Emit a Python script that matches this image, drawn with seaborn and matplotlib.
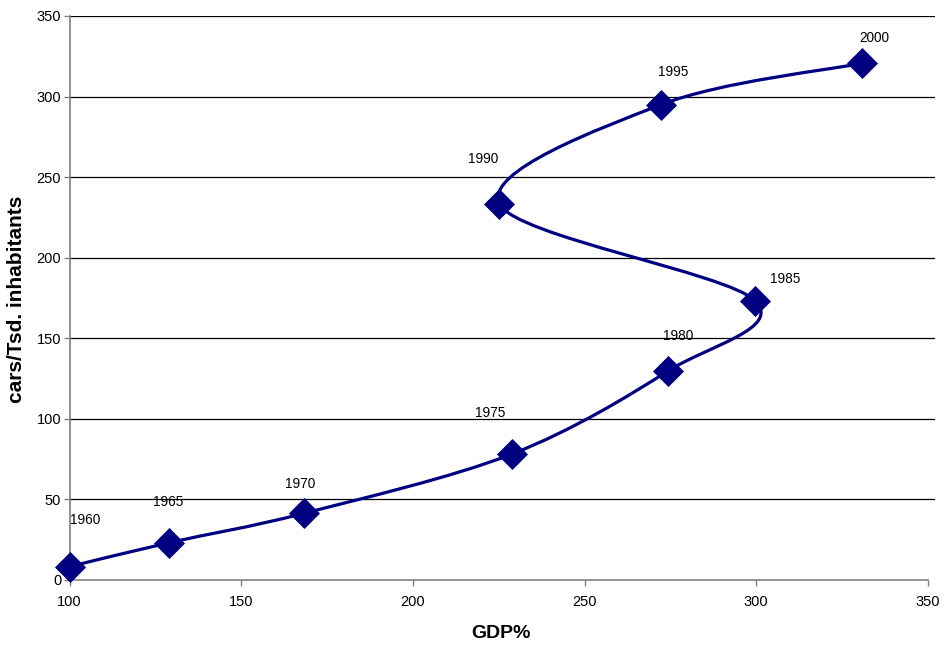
import numpy as np
import pandas as pd
import seaborn as sns
import matplotlib
matplotlib.use("Agg")
import matplotlib.pyplot as plt
from matplotlib.path import Path
from matplotlib.patches import PathPatch

# GDP index (1960 = 100) against car density, in five-year steps
years = ["1960", "1965", "1970", "1975", "1980", "1985", "1990", "1995", "2000"]
gdp = [100.0, 129.1, 168.3, 228.9, 274.3, 299.6, 225.2, 272.2, 330.9]
cars = [8.3, 23.2, 41.4, 78.2, 129.7, 173.4, 233.4, 294.9, 320.7]

# offsets of each year label from its marker, in pixels
label_dx = [16, -1, -4, -22, 10, 30, -16, 12, 12]
label_dy = [47, 41, 29, 41, 35, 22, 45, 33, 25]

df = pd.DataFrame({"year": years, "gdp": gdp, "cars": cars})

sns.set_theme(style="white")
plt.rcParams["font.family"] = ["Liberation Sans", "DejaVu Sans"]
plt.rcParams["text.color"] = "black"
plt.rcParams["axes.labelcolor"] = "black"

fig = plt.figure(figsize=(9.51, 6.5), dpi=100)
ax = fig.add_axes([0.0731, 0.1077, 0.9837 - 0.0731, 0.9754 - 0.1077])

navy = "#000080"

# smoothed connecting line: cubic Bezier segments with Catmull-Rom tangents
pts = np.column_stack([df["gdp"].to_numpy(), df["cars"].to_numpy()])
n = len(pts)
verts = [tuple(pts[0])]
codes = [Path.MOVETO]
for i in range(n - 1):
    p0 = pts[i - 1] if i > 0 else pts[i]
    p1 = pts[i]
    p2 = pts[i + 1]
    p3 = pts[i + 2] if i + 2 < n else pts[i + 1]
    c1 = p1 + (p2 - p0) / 6.0
    c2 = p2 - (p3 - p1) / 6.0
    verts += [tuple(c1), tuple(c2), tuple(p2)]
    codes += [Path.CURVE4, Path.CURVE4, Path.CURVE4]
ax.add_patch(PathPatch(Path(verts, codes), facecolor="none", edgecolor=navy,
                       lw=2.3, zorder=3, capstyle="round", joinstyle="round"))

sns.scatterplot(data=df, x="gdp", y="cars", ax=ax, marker="D", s=250,
                color=navy, edgecolor=navy, linewidth=0, zorder=4, clip_on=False)

for yr, x, y, dx, dy in zip(years, gdp, cars, label_dx, label_dy):
    ax.annotate(yr, (x, y), xytext=(dx, dy), textcoords="offset pixels",
                ha="center", va="center", fontsize=9.8, color="black")

ax.set_xlim(100, 352.2)
ax.set_ylim(0, 350)
ax.set_xticks([100, 150, 200, 250, 300, 350])
ax.set_yticks([0, 50, 100, 150, 200, 250, 300, 350])

for v in [50, 100, 150, 200, 250, 300, 350]:
    ax.axhline(v, color="black", lw=0.9, zorder=1)

for s in ["top", "right"]:
    ax.spines[s].set_visible(False)
for s in ["left", "bottom"]:
    ax.spines[s].set_color("#808080")
    ax.spines[s].set_linewidth(1.2)
ax.spines["bottom"].set_bounds(100, 350)

ax.tick_params(axis="both", which="major", direction="out", length=4,
               width=1, color="#808080", labelsize=10.5, labelcolor="black",
               bottom=True, left=True)
ax.tick_params(axis="x", pad=7)
ax.tick_params(axis="y", pad=2)

ax.set_xlabel("GDP%", fontsize=14, fontweight="bold", va="center", color="black")
ax.set_ylabel("cars/Tsd. inhabitants", fontsize=15, fontweight="bold", va="center",
              color="black")
ax.xaxis.set_label_coords((501 - 69.5) / 866.0, -0.0957)
ax.yaxis.set_label_coords(-0.0618, 0.498)

fig.savefig("out.png", dpi=100)
